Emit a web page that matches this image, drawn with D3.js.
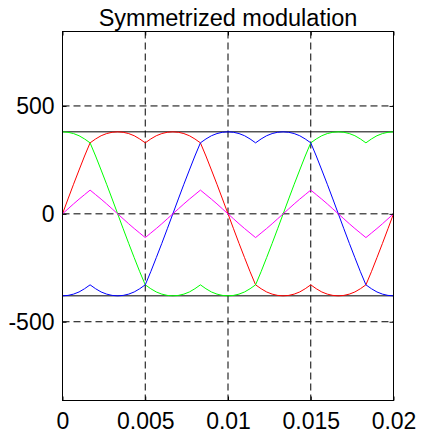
<!DOCTYPE html>
<html>
<head>
<meta charset="utf-8">
<script src="https://cdn.jsdelivr.net/npm/d3@7"></script>
<style>
  html, body { margin: 0; padding: 0; background: #fff; }
  svg { display: block; }
  text { font-family: Arial, "Liberation Sans", sans-serif; fill: #000; }
</style>
</head>
<body>
<svg id="chart" width="422" height="435"></svg>
<script>
// ---- data ----
const title = "Symmetrized modulation";
const xTicks = [0, 0.005, 0.01, 0.015, 0.02];
const xTickLabels = ["0", "0.005", "0.01", "0.015", "0.02"];
const yTicks = [500, 0, -500];
const yTickLabels = ["500", "0", "-500"];
const limitLevels = [380, -380];

// sample times: 61 samples over one 0.02 s period
const time = d3.range(61).map(i => i * 0.02 / 60);

const phaseA = [0, 69, 137, 203, 268, 329, 347, 362, 372, 378, 380, 378, 372, 362, 347, 329,
  347, 362, 372, 378, 380, 378, 372, 362, 347, 329, 268, 203, 137, 69, 0,
  -69, -137, -203, -268, -329, -347, -362, -372, -378, -380, -378, -372, -362, -347, -329,
  -347, -362, -372, -378, -380, -378, -372, -362, -347, -329, -268, -203, -137, -69, 0];

const phaseC = [380, 378, 372, 362, 347, 329, 268, 203, 137, 69, 0, -69, -137, -203, -268, -329,
  -347, -362, -372, -378, -380, -378, -372, -362, -347, -329, -347, -362, -372, -378, -380,
  -378, -372, -362, -347, -329, -268, -203, -137, -69, 0, 69, 137, 203, 268, 329,
  347, 362, 372, 378, 380, 378, 372, 362, 347, 329, 347, 362, 372, 378, 380];

const phaseB = [-380, -378, -372, -362, -347, -329, -347, -362, -372, -378, -380, -378, -372, -362, -347, -329,
  -268, -203, -137, -69, 0, 69, 137, 203, 268, 329, 347, 362, 372, 378, 380,
  378, 372, 362, 347, 329, 347, 362, 372, 378, 380, 378, 372, 362, 347, 329,
  268, 203, 137, 69, 0, -69, -137, -203, -268, -329, -347, -362, -372, -378, -380];

const zeroSeq = [0, 23, 46, 68, 89, 110, 89, 68, 46, 23, 0, -23, -46, -68, -89, -110, -89, -68, -46, -23,
  0, 23, 46, 68, 89, 110, 89, 68, 46, 23, 0, -23, -46, -68, -89, -110, -89, -68, -46, -23,
  0, 23, 46, 68, 89, 110, 89, 68, 46, 23, 0, -23, -46, -68, -89, -110, -89, -68, -46, -23, 0];

const series = [
  { name: "a", values: phaseA, color: "#ff0000" },
  { name: "c", values: phaseC, color: "#00ff00" },
  { name: "b", values: phaseB, color: "#0000ff" },
  { name: "zero", values: zeroSeq, color: "#ff00ff" }
];

// ---- layout ----
const plot = { left: 62.5, right: 393.5, top: 31.5, bottom: 400.5 };
const svg = d3.select("#chart");

const x = d3.scaleLinear().domain([0, 0.02]).range([plot.left, plot.right]);
const y = d3.scaleLinear().domain([-865, 845]).range([plot.bottom, plot.top]);

// title
svg.append("text")
  .attr("x", (plot.left + plot.right) / 2)
  .attr("y", 26)
  .attr("text-anchor", "middle")
  .style("font-size", "23.5px")
  .text(title);

// grid
const grid = svg.append("g").attr("stroke", "#000").attr("stroke-width", 1)
  .attr("stroke-dasharray", "7,4").attr("fill", "none");
xTicks.slice(1, -1).forEach(v => {
  grid.append("line").attr("x1", x(v)).attr("x2", x(v))
    .attr("y1", plot.top).attr("y2", plot.bottom);
});
yTicks.forEach(v => {
  grid.append("line").attr("x1", plot.left).attr("x2", plot.right)
    .attr("y1", y(v)).attr("y2", y(v));
});

// limit lines
limitLevels.forEach(v => {
  svg.append("line").attr("x1", plot.left).attr("x2", plot.right)
    .attr("y1", y(v)).attr("y2", y(v))
    .attr("stroke", "#000").attr("stroke-width", 1);
});

// curves
const line = d3.line().x((d, i) => x(time[i])).y(d => y(d));
series.forEach(s => {
  svg.append("path").datum(s.values)
    .attr("d", line)
    .attr("fill", "none")
    .attr("stroke", s.color)
    .attr("stroke-width", 1);
});

// axes (ticks inside, box)
const tickLen = 4;
const xAxisB = d3.axisBottom(x).tickValues(xTicks).tickFormat((d, i) => xTickLabels[i])
  .tickSizeInner(-tickLen).tickSizeOuter(0).tickPadding(12);
const gxb = svg.append("g").attr("transform", `translate(0,${plot.bottom})`).call(xAxisB);
const xAxisT = d3.axisTop(x).tickValues(xTicks).tickFormat("")
  .tickSizeInner(-tickLen).tickSizeOuter(0);
const gxt = svg.append("g").attr("transform", `translate(0,${plot.top})`).call(xAxisT);
const yAxisL = d3.axisLeft(y).tickValues(yTicks).tickFormat((d, i) => yTickLabels[i])
  .tickSizeInner(-tickLen).tickSizeOuter(0).tickPadding(8);
const gyl = svg.append("g").attr("transform", `translate(${plot.left},0)`).call(yAxisL);
const yAxisR = d3.axisRight(y).tickValues(yTicks).tickFormat("")
  .tickSizeInner(-tickLen).tickSizeOuter(0);
const gyr = svg.append("g").attr("transform", `translate(${plot.right},0)`).call(yAxisR);

[gxb, gxt, gyl, gyr].forEach(g => {
  g.select(".domain").remove();
  g.selectAll("line").attr("stroke", "#000");
  g.selectAll("text").style("font-size", "23px")
    .style("font-family", "Arial, 'Liberation Sans', sans-serif").attr("fill", "#000");
});
gxb.selectAll("text").attr("dy", "0.71em");

svg.append("rect")
  .attr("x", plot.left).attr("y", plot.top)
  .attr("width", plot.right - plot.left).attr("height", plot.bottom - plot.top)
  .attr("fill", "none").attr("stroke", "#000").attr("stroke-width", 1);
</script>
</body>
</html>
